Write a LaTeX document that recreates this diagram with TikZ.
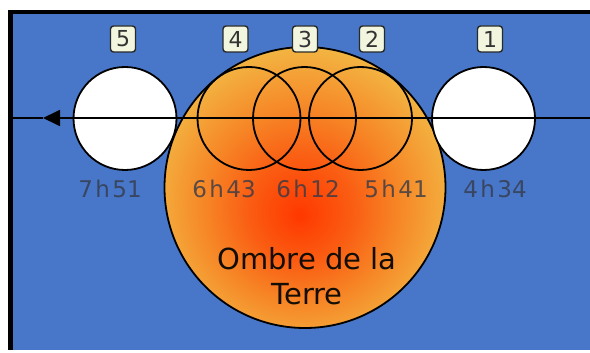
\documentclass[tikz,border=0pt]{standalone}
\usepackage{fontspec}
\setmainfont{DejaVu Sans}
\usetikzlibrary{arrows.meta}

\definecolor{sky}{RGB}{72,119,201}
\definecolor{umbracore}{RGB}{255,56,0}
\definecolor{umbrahot}{RGB}{250,92,18}
\definecolor{umbramid}{RGB}{246,138,40}
\definecolor{umbrarim}{RGB}{242,184,68}
\definecolor{tagfill}{RGB}{243,246,222}
\definecolor{tagedge}{RGB}{40,42,40}
\definecolor{timeink}{RGB}{52,58,72}

% Earth's umbra: red core a little below the centre, fading to amber at the rim
\pgfdeclareradialshading{umbrashade}{\pgfpoint{-1bp}{-5bp}}{%
  color(0bp)=(umbracore);
  color(9bp)=(umbrahot);
  color(18bp)=(umbramid);
  color(28bp)=(umbrarim);
  color(50bp)=(umbrarim)}

\newcommand{\hgap}{\hspace{2.5pt}}

\tikzset{
  ring/.style={draw=black, line width=1.8pt},
  moon/.style={ring, fill=white},
  orbit/.style={draw=black, line width=1.8pt},
  tag/.style={draw=tagedge, line width=1.4pt, fill=tagfill, rounded corners=3pt,
    minimum width=25pt, minimum height=26pt, inner sep=0pt,
    font=\fontsize{22}{22}\selectfont, text=black!80},
  timelabel/.style={font=\fontsize{23}{23}\selectfont, text=timeink, text opacity=0.8},
  caption/.style={font=\fontsize{29}{35}\selectfont, text=black!90!brown, align=center}
}

\begin{document}
\begin{tikzpicture}[x=1pt, y=-1pt]
  \useasboundingbox (0,0) rectangle (590,353);
  \fill[white] (0,0) rectangle (590,353);
  % frame and sky
  \fill[black] (8,10) rectangle (590,350);
  \fill[sky] (13,14) rectangle (590,350);

  % shadow of the Earth
  \shade[shading=umbrashade] (305,187.5) circle[radius=140.5];
  \draw[ring] (305,187.5) circle[radius=140.5];
  \node[caption] (shadow) at (307,276) {Ombre de la\\Terre};

  % Moon positions along its path
  \draw[moon] (483.5,118.5) circle[radius=51.5];
  \draw[moon] (125,118.5) circle[radius=51.5];
  \draw[ring] (360.5,118.5) circle[radius=51.5];
  \draw[ring] (304.5,118.5) circle[radius=51.5];
  \draw[ring] (249,118.5) circle[radius=51.5];

  % direction of motion
  \coordinate (east) at (590,118);
  \coordinate (tip) at (43,118);
  \coordinate (west) at (13,118);
  \draw[orbit, -{Triangle[length=17pt,width=16pt]}] (east) -- (tip);
  \draw[orbit] (tip) -- (west);

  % numbered tags
  \node[tag] (t1) at (490,39) {1};
  \node[tag] (t2) at (372,39) {2};
  \node[tag] (t3) at (305,39) {3};
  \node[tag] (t4) at (235.5,39) {4};
  \node[tag] (t5) at (123,39) {5};

  % times
  \node[timelabel] (h1) at (495,189) {4\hgap h\hgap 34};
  \node[timelabel] (h2) at (396,189) {5\hgap h\hgap 41};
  \node[timelabel] (h3) at (308,189) {6\hgap h\hgap 12};
  \node[timelabel] (h4) at (224,189) {6\hgap h\hgap 43};
  \node[timelabel] (h5) at (110,189) {7\hgap h\hgap 51};
\end{tikzpicture}
\end{document}
